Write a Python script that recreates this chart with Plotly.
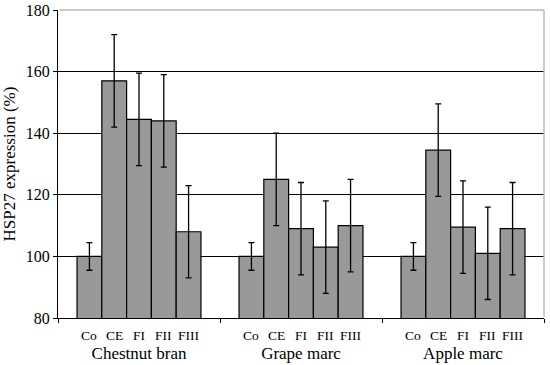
import plotly.graph_objects as go

groups = ["Chestnut bran", "Grape marc", "Apple marc"]
treatments = ["Co", "CE", "FI", "FII", "FIII"]
# values per treatment across groups
values = {
    "Co":   [100, 100, 100],
    "CE":   [157, 125, 134.5],
    "FI":   [144.5, 109, 109.5],
    "FII":  [144, 103, 101],
    "FIII": [108, 110, 109],
}
errors = {
    "Co":   [4.5, 4.5, 4.5],
    "CE":   [15, 15, 15],
    "FI":   [15, 15, 15],
    "FII":  [15, 15, 15],
    "FIII": [15, 15, 15],
}
y_ticks = [80, 100, 120, 140, 160, 180]

FONT = "Liberation Serif, Times New Roman, serif"
BARGAP = 0.235

fig = go.Figure()
for t in treatments:
    fig.add_trace(go.Bar(
        x=groups, y=values[t], name=t,
        marker=dict(color="#999999", line=dict(color="black", width=1.2)),
        error_y=dict(type="data", array=errors[t], visible=True,
                     color="black", thickness=1.3, width=3),
        showlegend=False,
    ))

# sub-category labels under each bar
w = (1 - BARGAP) / len(treatments)
annotations = []
for gi, g in enumerate(groups):
    for ti, t in enumerate(treatments):
        annotations.append(dict(
            x=gi + (ti - (len(treatments) - 1) / 2) * w, xref="x",
            y=-0.057, yref="paper", yanchor="middle", xanchor="center",
            text=t, showarrow=False,
            font=dict(family=FONT, size=13.5, color="black"),
        ))

fig.update_layout(
    width=550, height=365,
    margin=dict(l=58, r=6, t=10, b=47),
    paper_bgcolor="white", plot_bgcolor="white",
    barmode="group", bargap=BARGAP, bargroupgap=0,
    font=dict(family=FONT, color="black"),
    annotations=annotations,
    shapes=[
        dict(type="line", xref="paper", yref="paper", x0=0.003, y0=1, x1=1, y1=1,
             line=dict(color="#b8b8b8", width=1.6), layer="above"),
        dict(type="line", xref="paper", yref="paper", x0=1, y0=0.004, x1=1, y1=1,
             line=dict(color="#b8b8b8", width=1.4), layer="above"),
    ],
)
fig.update_xaxes(
    showline=True, linecolor="black", linewidth=1.3,
    ticks="outside", ticklen=4, tickcolor="black", tickson="boundaries",
    tickfont=dict(family=FONT, size=17, color="black"),
    ticklabelstandoff=19,
    showgrid=False, automargin=False,
)
fig.update_yaxes(
    range=[80, 180], tickvals=y_ticks,
    showline=True, linecolor="black", linewidth=1.3,
    ticks="outside", ticklen=4, tickcolor="black",
    tickfont=dict(family=FONT, size=16, color="black"),
    showgrid=True, gridcolor="black", gridwidth=1.3,
    title=dict(text="HSP27 expression (%)", font=dict(family=FONT, size=17, color="black"), standoff=11),
    zeroline=False, automargin=False,
)
fig.write_html("out.html", config={"displayModeBar": False},
               post_script="document.body.style.margin='0px';document.body.style.overflow='hidden';")
